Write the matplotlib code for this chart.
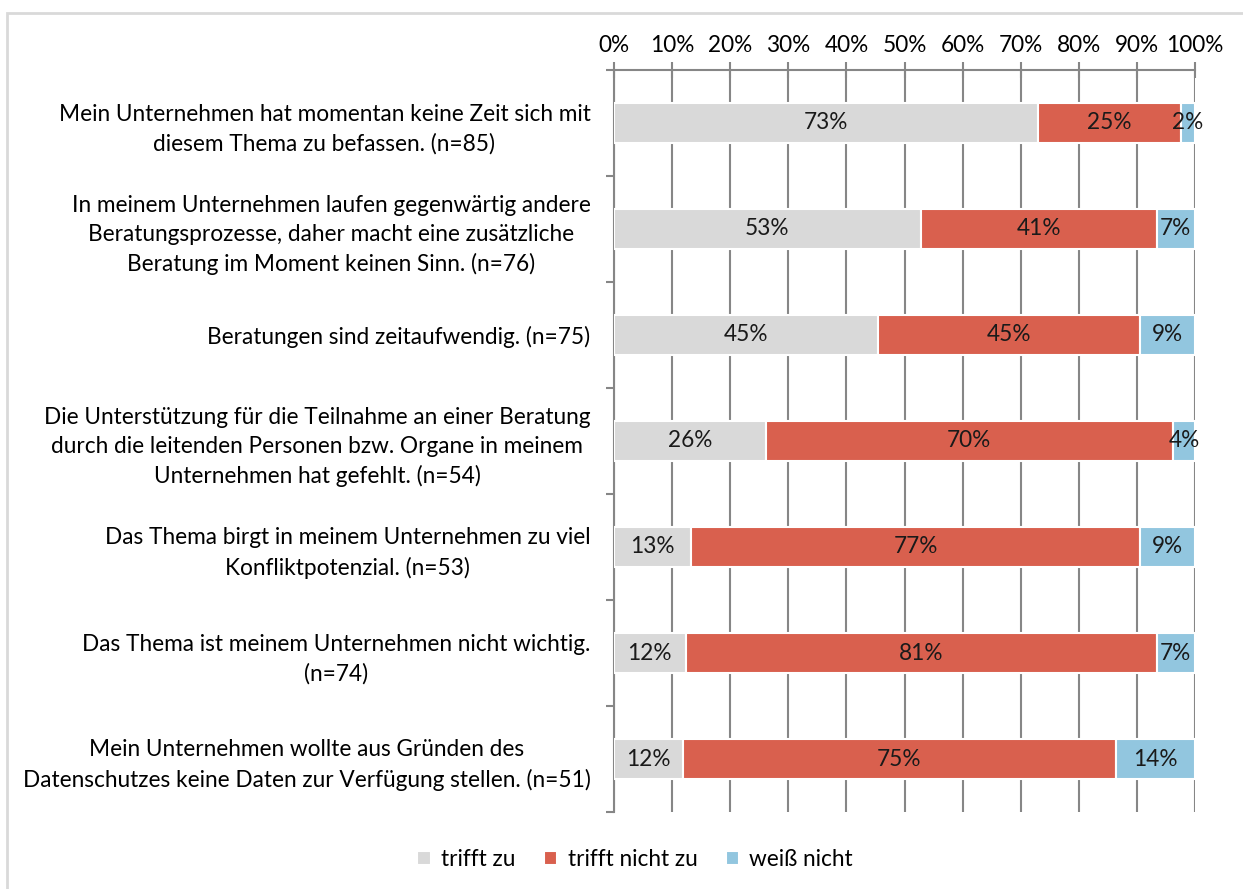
import numpy as np
import matplotlib
matplotlib.use("Agg")
import matplotlib.pyplot as plt
from matplotlib.patches import Rectangle

plt.rcParams['font.family'] = ['Lato', 'DejaVu Sans']

statements = [
    "Mein Unternehmen hat momentan keine Zeit sich mit\ndiesem Thema zu befassen. (n=85)",
    "In meinem Unternehmen laufen gegenwärtig andere\nBeratungsprozesse, daher macht eine zusätzliche\nBeratung im Moment keinen Sinn. (n=76)",
    "Beratungen sind zeitaufwendig. (n=75)",
    "Die Unterstützung für die Teilnahme an einer Beratung\ndurch die leitenden Personen bzw. Organe in meinem\nUnternehmen hat gefehlt. (n=54)",
    "Das Thema birgt in meinem Unternehmen zu viel\nKonfliktpotenzial. (n=53)",
    "Das Thema ist meinem Unternehmen nicht wichtig.\n(n=74)",
    "Mein Unternehmen wollte aus Gründen des\nDatenschutzes keine Daten zur Verfügung stellen. (n=51)",
]
trifft_zu = [73.0, 52.8, 45.4, 26.1, 13.2, 12.3, 11.8]
trifft_nicht_zu = [24.6, 40.6, 45.2, 70.1, 77.4, 81.1, 74.6]
weiss_nicht = [2.4, 6.6, 9.4, 3.8, 9.4, 6.6, 13.6]
series_names = ["trifft zu", "trifft nicht zu", "weiß nicht"]
colors = ["#d9d9d9", "#d9604e", "#92c6df"]
xticks = list(range(0, 101, 10))

grid_col = "#868686"
fs = 16.3

fig = plt.figure(figsize=(12.43, 8.89), dpi=100)
ax = fig.add_axes([0.494, 0.0866, 0.4674, 0.8347])

# light frame around the chart area
fig.patches.append(Rectangle((0.0056, -0.05), 1.2, 1.035, transform=fig.transFigure,
                             fill=False, edgecolor="#d9d9d9", linewidth=2))

y = np.arange(len(statements))
left = np.zeros(len(statements))
for vals, name, col in zip([trifft_zu, trifft_nicht_zu, weiss_nicht], series_names, colors):
    vals = np.array(vals)
    bars = ax.barh(y, vals, left=left, height=0.38, color=col, edgecolor="white",
                   linewidth=1.5, label=name, zorder=3)
    for b, v in zip(bars, vals):
        ax.text(b.get_x() + b.get_width() / 2, b.get_y() + b.get_height() / 2,
                f"{v:.0f}%", ha="center", va="center", fontsize=fs, color="#1a1a1a", zorder=4)
    left += vals

ax.set_xlim(0, 100)
ax.set_ylim(len(statements) - 0.5, -0.5)
ax.xaxis.tick_top()
ax.set_xticks(xticks)
ax.set_xticklabels([f"{t}%" for t in xticks], fontsize=fs)
ax.tick_params(axis="x", direction="inout", length=12, width=1.5, color=grid_col, pad=4)
ax.grid(axis="x", color=grid_col, linewidth=1.5, zorder=1)

ax.set_yticks(y)
ax.set_yticklabels(statements, fontsize=fs, linespacing=1.45)
for lbl in ax.get_yticklabels():
    lbl.set_multialignment("center")
ax.tick_params(axis="y", length=0, pad=17)
ax.set_yticks(np.arange(-0.5, len(statements)), minor=True)
ax.tick_params(axis="y", which="minor", direction="out", length=6, width=1.5, color=grid_col)

for side in ["right", "bottom"]:
    ax.spines[side].set_visible(False)
for side in ["top", "left"]:
    ax.spines[side].set_color(grid_col)
    ax.spines[side].set_linewidth(1.5)

fig.legend(loc="center", bbox_to_anchor=(0.511, 0.033), ncol=3, frameon=False,
           fontsize=fs, handlelength=0.6, handleheight=0.6, columnspacing=1.25,
           handletextpad=0.45)

fig.savefig("out.png", dpi=100)
